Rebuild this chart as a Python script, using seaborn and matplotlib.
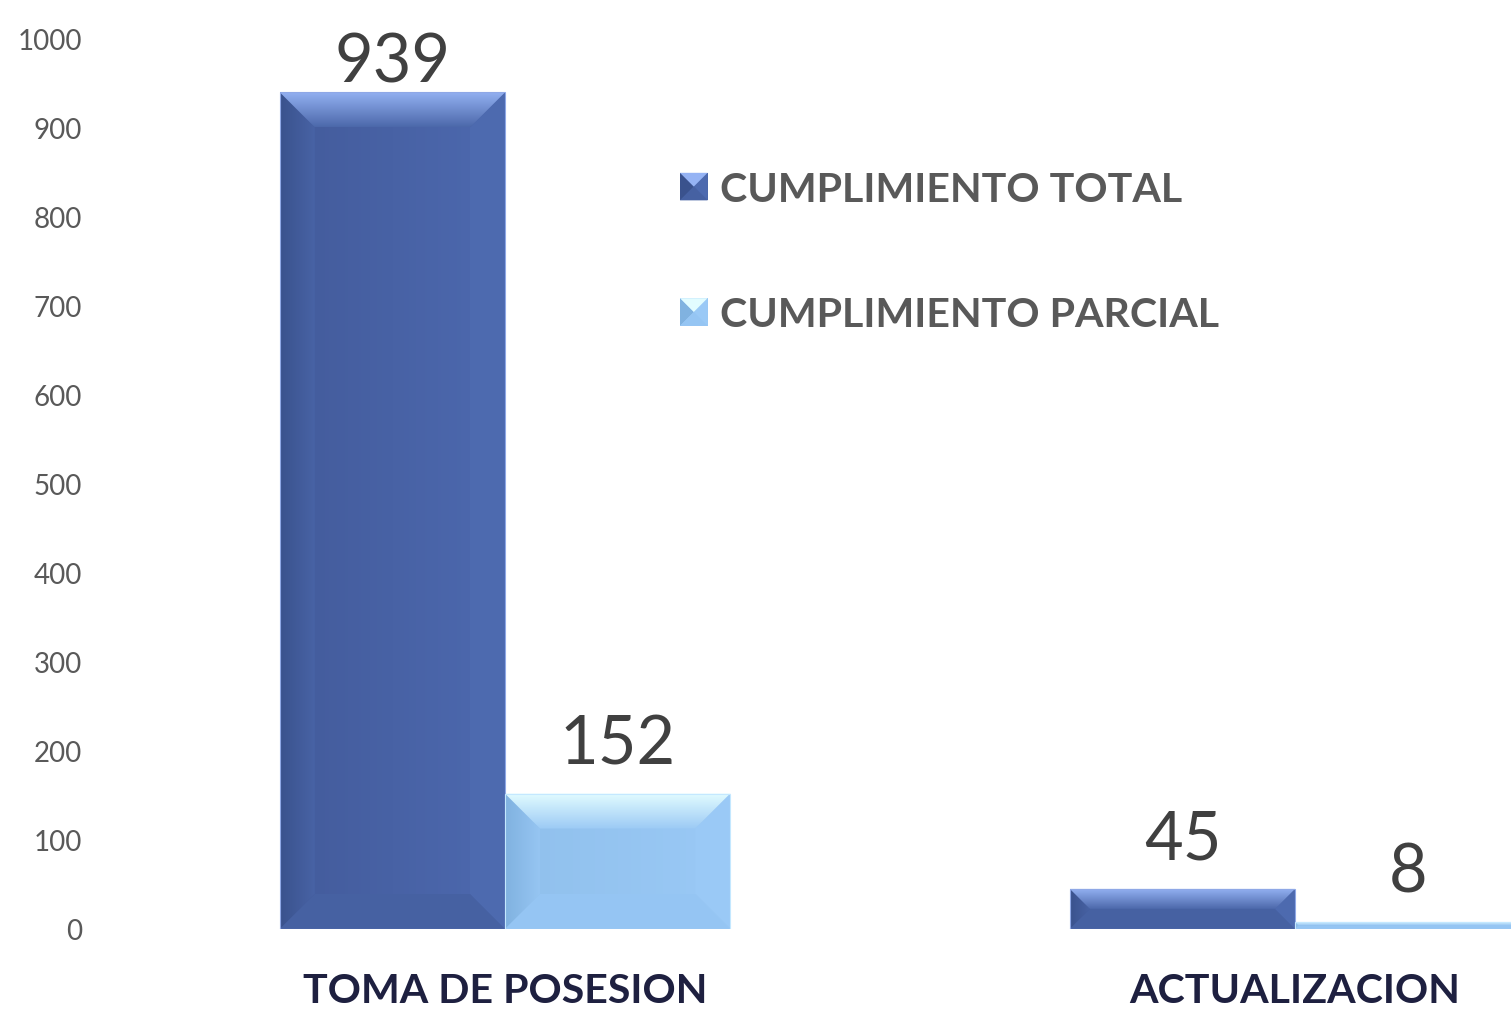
import numpy as np
import pandas as pd
import matplotlib
matplotlib.use("Agg")
import matplotlib.pyplot as plt
import seaborn as sns
from matplotlib.patches import Polygon, Patch
from matplotlib.legend_handler import HandlerBase
from matplotlib.colors import LinearSegmentedColormap

# ---- data ----
categories = ["TOMA DE POSESION", "ACTUALIZACION"]
series = ["CUMPLIMIENTO TOTAL", "CUMPLIMIENTO PARCIAL"]
total_values = [939, 45]
parcial_values = [152, 8]
y_ticks = [0, 100, 200, 300, 400, 500, 600, 700, 800, 900, 1000]

df = pd.DataFrame({
    "categoria": categories * 2,
    "serie": [series[0]] * len(categories) + [series[1]] * len(categories),
    "valor": total_values + parcial_values,
})

# ---- style ----
sns.set_theme(style="white")
plt.rcParams["font.family"] = ["Lato", "DejaVu Sans"]

W, H = 1511, 1012
fig = plt.figure(figsize=(W / 100, H / 100), dpi=100)
ax = fig.add_axes([110 / W, 82 / H, 1 - 110 / W, 891 / H])

base = {series[0]: "#4A66A8", series[1]: "#99C8F5"}
# facet shades for the bevelled look: left, right, bottom, top (light->base)
shades = {
    "#4A66A8": dict(left0="#3A528D", left1="#4863A5", right="#4D6AAF",
                    bottom="#4661A2", top0="#95B3F4", top1="#4C68AA",
                    grad=("#435B9B", "#4A66A8", "#4D69AF"), edge="#8FA8E6"),
    "#99C8F5": dict(left0="#80B2E0", left1="#96C5F2", right="#9AC9F6",
                    bottom="#95C5F3", top0="#E2FCFF", top1="#9CCAF5",
                    grad=("#90C0EC", "#99C8F5", "#9AC9F6"), edge="#C4E8FF"),
}

sns.barplot(data=df, x="categoria", y="valor", hue="serie", palette=base,
            width=0.57, saturation=1, ax=ax, legend=False, edgecolor="none")

ax.set_xlim(-0.5, 1.2734)
ax.set_ylim(0, 1000)
ax.set_yticks(y_ticks)
ax.set_yticklabels([str(t) for t in y_ticks], fontsize=20, color="#595959")
ax.tick_params(axis="y", length=0, pad=20)
ax.tick_params(axis="x", length=0, pad=31)
for lab in ax.get_xticklabels():
    lab.set_fontsize(29.6)
    lab.set_fontweight("bold")
    lab.set_color("#1E2040")
ax.set_xlabel("")
ax.set_ylabel("")
for s in ax.spines.values():
    s.set_visible(False)
ax.grid(False)

fig.canvas.draw()
to_disp = ax.transData.transform
to_data = ax.transData.inverted().transform


def grad_poly(pts_disp, c0, c1, vertical, z):
    """Fill a polygon (display coords) with a linear gradient c0 -> c1."""
    pts = to_data(np.asarray(pts_disp))
    poly = Polygon(pts, closed=True, transform=ax.transData,
                   facecolor="none", edgecolor="none")
    ax.add_patch(poly)
    cmap = LinearSegmentedColormap.from_list("g", [c0, c1])
    g = np.linspace(0, 1, 256)
    xmin, ymin = pts.min(axis=0)
    xmax, ymax = pts.max(axis=0)
    # vertical: c0 at top; horizontal: c0 at left
    img = g[::-1].reshape(-1, 1) if vertical else g.reshape(1, -1)
    im = ax.imshow(img, extent=[xmin, xmax, ymin, ymax], origin="lower",
                   aspect="auto", cmap=cmap, zorder=z, interpolation="bilinear")
    im.set_clip_path(poly)


def solid_poly(pts_disp, color, z):
    ax.add_patch(Polygon(to_data(np.asarray(pts_disp)), closed=True,
                         facecolor=color, edgecolor="none", zorder=z))


def nearest_shade(fc):
    return shades[min(shades, key=lambda k: sum(
        abs(int(k[i:i + 2], 16) - int(fc[i:i + 2], 16)) for i in (1, 3, 5)))]


bars = [p for p in ax.patches if p.get_height() > 0]
for p in bars:
    fc = "#%02X%02X%02X" % tuple(int(round(c * 255)) for c in p.get_facecolor()[:3])
    sh = nearest_shade(fc)
    x, y, w, h = p.get_x(), p.get_y(), p.get_width(), p.get_height()
    (x0, y0), (x1, y1) = to_disp([(x, y), (x + w, y + h)])
    b = min(35.0, (y1 - y0) / 2, (x1 - x0) / 2)
    # whole-face horizontal shading
    grad_poly([(x0, y0), (x1, y0), (x1, y1), (x0, y1)], sh["grad"][0], sh["grad"][2], False, 3)
    # bevel facets
    grad_poly([(x0, y0), (x0 + b, y0 + b), (x0 + b, y1 - b), (x0, y1)], sh["left0"], sh["left1"], False, 4)
    solid_poly([(x1, y0), (x1, y1), (x1 - b, y1 - b), (x1 - b, y0 + b)], sh["right"], 4)
    solid_poly([(x0, y0), (x1, y0), (x1 - b, y0 + b), (x0 + b, y0 + b)], sh["bottom"], 4)
    grad_poly([(x0, y1), (x1, y1), (x1 - b, y1 - b), (x0 + b, y1 - b)], sh["top0"], sh["top1"], True, 5)
    # thin light rim
    ax.add_patch(Polygon(to_data(np.array([(x0, y0), (x1, y0), (x1, y1), (x0, y1)])),
                         closed=True, facecolor="none", edgecolor=sh["edge"],
                         linewidth=0.8, zorder=6))

    # value label above the bar, kept inside the figure
    top_room = (H - 83) - y1
    off = min(30.0, top_room)
    ax.annotate(f"{h:.0f}", xy=(x + w / 2, h), xytext=(0, off),
                textcoords="offset pixels", ha="center", va="baseline",
                fontsize=48, color="#404040", zorder=7, annotation_clip=False)

ax.set_xlim(-0.5, 1.2734)
ax.set_ylim(0, 1000)


# ---- legend with bevelled swatches ----
class BevelHandler(HandlerBase):
    def __init__(self, color):
        super().__init__()
        self.color = color

    def create_artists(self, legend, orig_handle, xdescent, ydescent, width,
                       height, fontsize, trans):
        sh = shades[self.color]
        s = min(width, height)
        x0, y0 = -xdescent, -ydescent + (height - s) / 2
        x1, y1 = x0 + s, y0 + s
        cx, cy = (x0 + x1) / 2, (y0 + y1) / 2
        arts = [
            Polygon([(x0, y0), (x1, y0), (x1, y1), (x0, y1)], facecolor=self.color),
            Polygon([(x0, y0), (cx, cy), (x0, y1)], facecolor=sh["left0"]),
            Polygon([(x1, y0), (x1, y1), (cx, cy)], facecolor=sh["right"]),
            Polygon([(x0, y1), (x1, y1), (cx, cy)], facecolor=sh["top0"]),
            Polygon([(x0, y0), (x1, y0), (cx, cy)], facecolor=sh["bottom"]),
        ]
        for a in arts:
            a.set_edgecolor("none")
            a.set_transform(trans)
        return arts


handles = [Patch(facecolor=base[s], label=s) for s in series]
leg = fig.legend(handles=handles, labels=series,
                 handler_map={handles[0]: BevelHandler(base[series[0]]),
                              handles[1]: BevelHandler(base[series[1]])},
                 loc="upper left", bbox_to_anchor=(680 / W, 1 - 172 / H),
                 frameon=False, borderpad=0, borderaxespad=0,
                 handlelength=0.67, handleheight=0.67, handletextpad=0.3,
                 labelspacing=2.15,
                 prop={"family": ["Lato", "DejaVu Sans"], "weight": "bold", "size": 29.6})
for t in leg.get_texts():
    t.set_color("#595959")

fig.savefig("out.png", dpi=100)
